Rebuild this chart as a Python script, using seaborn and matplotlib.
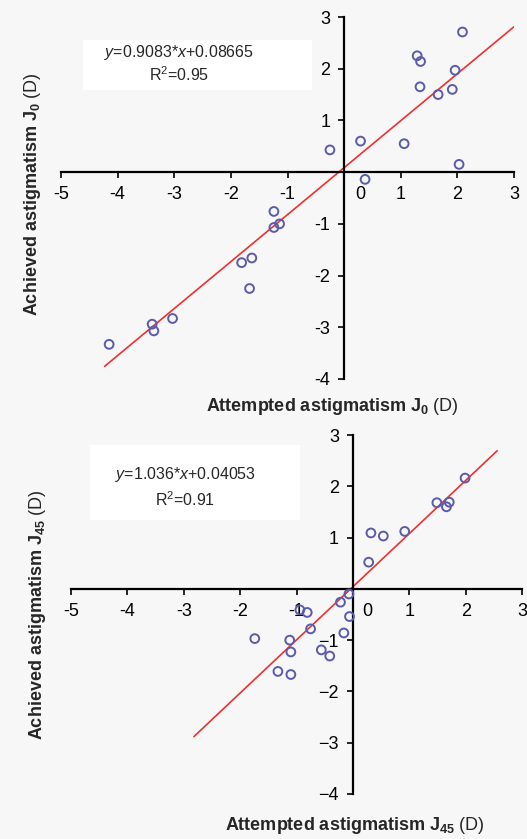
import matplotlib
matplotlib.use("Agg")
import matplotlib.pyplot as plt
import matplotlib.transforms as mtrans
from matplotlib.patches import Rectangle
import seaborn as sns
import pandas as pd

# J0 panel
j0_attempted = [-0.25, 0.29, 0.37, 1.06, 1.29, 1.35, 1.34, 1.66, 1.91, 1.96, 2.09, 2.03,
                -1.24, -1.24, -1.14, -1.81, -1.63, -1.67, -3.03, -3.39, -3.36, -4.15]
j0_achieved = [0.43, 0.60, -0.14, 0.55, 2.25, 2.14, 1.65, 1.50, 1.60, 1.97, 2.71, 0.15,
               -0.76, -1.07, -1.00, -1.75, -1.66, -2.25, -2.83, -2.94, -3.07, -3.33]
j0_slope, j0_icpt, j0_r2 = 0.9083, 0.08665, 0.95
j0_line_x = [-4.23, 3.0]

# J45 panel
j45_attempted = [1.99, 1.49, 1.71, 1.66, 0.92, 0.32, 0.54, 0.28, -0.07, -0.22, -0.06,
                 -0.94, -0.81, -0.75, -1.74, -1.12, -1.10, -0.56, -0.41, -0.16, -1.33, -1.10]
j45_achieved = [2.16, 1.68, 1.69, 1.60, 1.12, 1.09, 1.03, 0.52, -0.10, -0.26, -0.54,
                -0.41, -0.46, -0.78, -0.97, -1.00, -1.23, -1.19, -1.31, -0.86, -1.61, -1.67]
j45_slope, j45_icpt, j45_r2 = 1.036, 0.04053, 0.91
j45_line_x = [-2.82, 2.56]

x_ticks = [-5, -4, -3, -2, -1, 0, 1, 2, 3]
y_ticks = [-4, -3, -2, -1, 1, 2, 3]

sns.set_style("white")
plt.rcParams["font.family"] = ["Liberation Sans", "DejaVu Sans"]
plt.rcParams["mathtext.fontset"] = "custom"
plt.rcParams["mathtext.rm"] = "Liberation Sans"
plt.rcParams["mathtext.it"] = "Liberation Sans:italic"
plt.rcParams["mathtext.bf"] = "Liberation Sans:bold"

BG = "#f7f7f7"
PT = "#5b5bab"
RED = "#ee3030"

fig = plt.figure(figsize=(5.27, 8.39), dpi=100, facecolor=BG)


def draw_panel(ax, xs, ys, slope, icpt, line_x, ylab_minus, zero_shift):
    df = pd.DataFrame({"x": xs, "y": ys})
    lx = pd.Series(line_x)
    sns.lineplot(x=lx, y=slope * lx + icpt, ax=ax, color=RED, linewidth=1.2, zorder=2)
    sns.scatterplot(data=df, x="x", y="y", ax=ax, marker="o", s=40,
                    facecolor="none", edgecolor=PT, linewidth=1.4, zorder=3)
    ax.set_facecolor("none")
    ax.set_xlim(-5, 3)
    ax.set_ylim(-4, 3)
    for s in ["top", "right"]:
        ax.spines[s].set_visible(False)
    ax.spines["left"].set_position(("data", 0))
    ax.spines["bottom"].set_position(("data", 0))
    for s in ["left", "bottom"]:
        ax.spines[s].set_linewidth(1.6)
        ax.spines[s].set_color("black")
    ax.set_xticks(x_ticks, [str(t) for t in x_ticks])
    ax.set_yticks(y_ticks, [str(t).replace("-", ylab_minus) for t in y_ticks])
    ax.tick_params(direction="out", length=4, width=1.2, labelsize=13, pad=6,
                   colors="black", bottom=True, left=True)
    ax.set_xlabel("")
    ax.set_ylabel("")
    for lab in ax.get_xticklabels():
        if lab.get_text() == "0":
            lab.set_transform(lab.get_transform() +
                              mtrans.ScaledTranslation(zero_shift / 100, 0, fig.dpi_scale_trans))


W, H = 527, 839


def fx(px):
    return px / W


def fy(py):
    return 1 - py / H


ax1 = fig.add_axes([fx(61), fy(379), fx(514) - fx(61), fy(17) - fy(379)])
draw_panel(ax1, j0_attempted, j0_achieved, j0_slope, j0_icpt, j0_line_x, "-", 16)

ax2 = fig.add_axes([fx(71), fy(794), fx(522) - fx(71), fy(435) - fy(794)])
draw_panel(ax2, j45_attempted, j45_achieved, j45_slope, j45_icpt, j45_line_x, "\u2212", 14)

# equation boxes
fig.patches.append(Rectangle((fx(83), fy(90)), fx(312) - fx(83), fy(40) - fy(90),
                             transform=fig.transFigure, facecolor="white",
                             edgecolor="none", zorder=0))
fig.patches.append(Rectangle((fx(90), fy(520)), fx(300) - fx(90), fy(445) - fy(520),
                             transform=fig.transFigure, facecolor="white",
                             edgecolor="none", zorder=0))

fig.text(fx(179), fy(52), f"$y$={j0_slope}*$x$+{j0_icpt}", ha="center", va="center", fontsize=11.5)
fig.text(fx(179), fy(75), f"R$^2$={j0_r2}", ha="center", va="center", fontsize=11.5)
fig.text(fx(185), fy(475), f"$y$={j45_slope}*$x$+{j45_icpt}", ha="center", va="center", fontsize=11.5)
fig.text(fx(185), fy(500), f"R$^2$={j45_r2}", ha="center", va="center", fontsize=11.5)

# axis titles
fig.text(fx(332), fy(406), r"Attempted astigmatism J$_\mathbf{0}$ $\mathrm{(D)}$",
         ha="center", va="center", fontsize=13, fontweight="bold")
fig.text(fx(355), fy(826), r"Attempted astigmatism J$_\mathbf{45}$ $\mathrm{(D)}$",
         ha="center", va="center", fontsize=13, fontweight="bold")
fig.text(fx(33), fy(194), r"Achieved astigmatism J$_\mathbf{0}$ $\mathrm{(D)}$",
         ha="center", va="center", rotation=90, fontsize=13, fontweight="bold")
fig.text(fx(38), fy(615), r"Achieved astigmatism J$_\mathbf{45}$ $\mathrm{(D)}$",
         ha="center", va="center", rotation=90, fontsize=13, fontweight="bold")

fig.savefig("out.png", dpi=100, facecolor=BG)
